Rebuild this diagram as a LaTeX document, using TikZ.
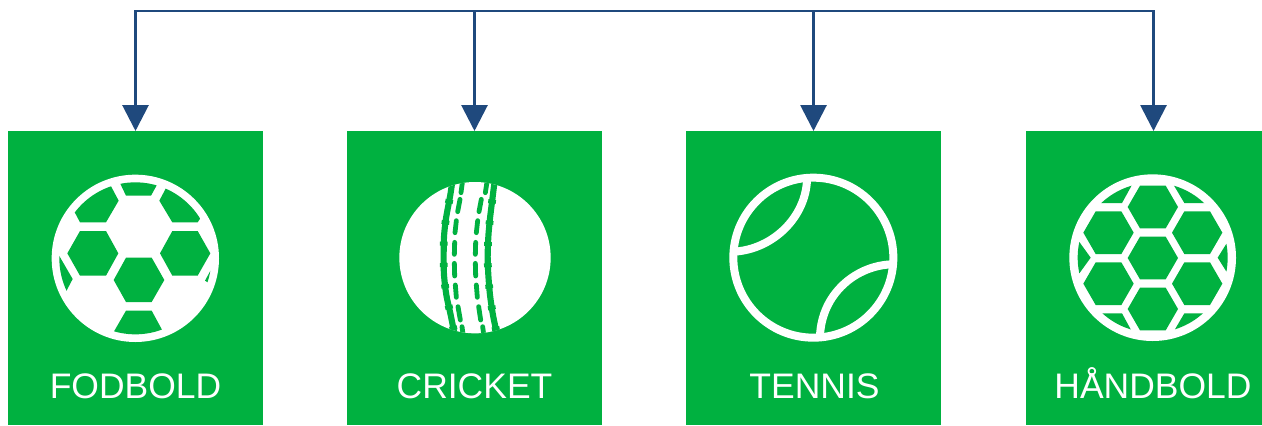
\documentclass[tikz,border=0pt]{standalone}
\usepackage{fontspec}
\setmainfont{Liberation Sans}
\usetikzlibrary{arrows.meta}
\definecolor{grn}{RGB}{0,177,64}
\definecolor{nav}{RGB}{31,73,125}
\tikzset{
  sportbox/.style={fill=grn,draw=none,minimum width=191.25pt,minimum height=220.5pt,inner sep=0pt,outer sep=0pt},
  sportlabel/.style={text=white,font=\fontsize{26.6pt}{30pt}\selectfont,inner sep=0pt,anchor=base},
  conn/.style={draw=nav,line width=2.2pt},
  arr/.style={conn,-{Triangle[width=19.5pt,length=19.5pt]}},
  hole/.style={fill=grn,draw=none},
  zoomed/.style={x=0.25pt,y=-0.25pt},
  seam/.style={draw=grn,line width=4.6pt},
  seamteeth/.style={draw=grn,line width=5.8pt,dash pattern=on 3pt off 13pt},
  stitch/.style={draw=grn,line width=3.6pt,line cap=round},
  wline/.style={draw=white,line width=6pt},
}
\begin{document}
\begin{tikzpicture}[x=0.75pt,y=-0.75pt]
\useasboundingbox (0,0) rectangle (1262,425);
\begin{scope}
\clip (0,0) rectangle (1262,425);
\node[sportbox] (b1) at (135.5,278) {};
\node[sportbox] (b2) at (474.5,278) {};
\node[sportbox] (b3) at (813.5,278) {};
\node[sportbox] (b4) at (1153.5,278) {};
\end{scope}
\coordinate (t1) at (b1.north |- 0,11);
\coordinate (t2) at (b2.north |- 0,11);
\coordinate (t3) at (b3.north |- 0,11);
\coordinate (t4) at (b4.north |- 0,11);
\draw[conn,line cap=rect] (t1) -- (t4);
\draw[arr] (t1) -- (b1.north);
\draw[arr] (t2) -- (b2.north);
\draw[arr] (t3) -- (b3.north);
\draw[arr] (t4) -- (b4.north);
\node[sportlabel] (l1) at (135.5,398) {FODBOLD};
\node[sportlabel] (l2) at (474.5,398) {CRICKET};
\node[sportlabel] (l3) at (814.5,398) {TENNIS};
\node[sportlabel] (l4) at (1153,398) {HÅNDBOLD};
% football
\begin{scope}[shift={(30,160)},zoomed]
\fill[white] (316,295) circle[radius=251*0.25pt];
\begin{scope}
\clip (316,295) circle[radius=228*0.25pt];
\fill[hole] (256,40)--(400,40)--(363,107)--(288,107)--cycle;
\fill[hole] (225,45)--(266,122)--(228,187)--(150,187)--(120,130)--cycle;
\fill[hole] (426,50)--(388,122)--(427,187)--(503,187)--(560,100)--cycle;
\fill[hole] (288,452)--(365,452)--(410,535)--(240,535)--cycle;
\fill[hole] (70,257)--(128,357)--(95,420)--(40,350)--cycle;
\fill[hole] (560,298)--(525,362)--(560,385)--cycle;
\end{scope}
\fill[hole] (150,213)--(228,213)--(265,280)--(228,347)--(150,347)--(112,280)--cycle;
\fill[hole] (427,213)--(503,213)--(541,280)--(503,347)--(427,347)--(390,280)--cycle;
\fill[hole] (288,293)--(365,293)--(403,360)--(365,426)--(288,426)--(251,360)--cycle;
\end{scope}
% cricket
\begin{scope}[shift={(380,160)},zoomed]
\fill[white] (285,293) circle[radius=227*0.25pt];
\begin{scope}
\clip (285,293) circle[radius=227*0.25pt];
\def\seamL{(218,55) (215,78) (210,110) (198,175) (192,230) (191,290) (192,345) (199,405) (211,460) (221,510) (226,535)}
\def\seamR{(345,55) (342,78) (338,110) (330,175) (325,230) (323,290) (325,345) (330,405) (338,460) (348,510) (352,535)}
\draw[seam] plot[smooth] coordinates {\seamL};
\draw[seam] plot[smooth] coordinates {\seamR};
\draw[seamteeth] plot[smooth] coordinates {\seamL};
\draw[seamteeth] plot[smooth] coordinates {\seamR};
\foreach \a/\b/\c/\d in {
 248/60/243/98, 240/118/233/155, 229/182/225/218, 224/247/223/283, 223/310/224/348, 226/375/229/412, 234/440/241/480, 246/500/250/530,
 322/60/316/98, 304/118/297/155, 293/182/289/218, 287/247/286/283, 286/310/287/348, 289/375/292/412, 296/440/302/480, 308/500/312/530}
  \draw[stitch] (\a,\b) -- (\c,\d);
\end{scope}
\end{scope}
% tennis
\begin{scope}[shift={(710,160)},zoomed]
\draw[wline] (310,293) circle[radius=240*0.25pt];
\draw[wline] (291,58) .. controls (288,170) and (190,268) .. (72,275);
\draw[wline] (548,313) .. controls (440,315) and (335,400) .. (330,528);
\end{scope}
% handball
\begin{scope}[shift={(1050,160)},zoomed]
\fill[white] (308,293) circle[radius=250*0.25pt];
\begin{scope}
\clip (308,293) circle[radius=225*0.25pt];
\fill[hole] (130,129)--(216,129)--(254,60)--(180,60)--cycle;
\fill[hole] (362,60)--(403,129)--(490,129)--(440,60)--cycle;
\fill[hole] (130,460)--(216,460)--(254,530)--(180,530)--cycle;
\fill[hole] (362,530)--(403,460)--(490,460)--(440,530)--cycle;
\fill[hole] (62,210)--(122,293)--(62,376)--cycle;
\fill[hole] (555,210)--(503,293)--(555,376)--cycle;
\end{scope}
\foreach \dx/\dy in {0/0,0/153,0/306,-133/77,133/77,-133/230,133/230}
  \fill[hole,shift={(\dx*0.25pt,-\dy*0.25pt)}] (270,77)--(347,77)--(384,141)--(347,205)--(270,205)--(233,141)--cycle;
\end{scope}
\end{tikzpicture}
\end{document}
